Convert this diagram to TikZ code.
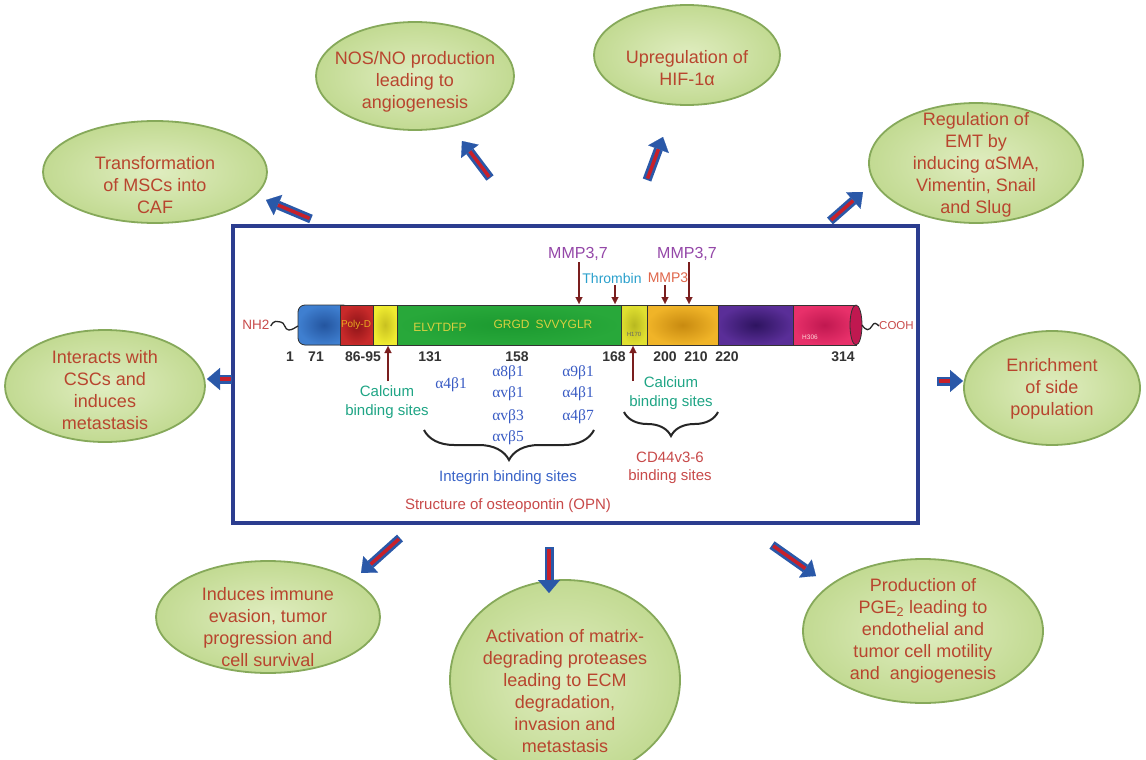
\documentclass[tikz,border=0pt]{standalone}
\usepackage{fontspec}
\setmainfont{Liberation Sans}
\newfontfamily\grk{Liberation Serif}
\usetikzlibrary{arrows.meta,shapes.geometric,decorations.pathreplacing}
\definecolor{ellin}{HTML}{E0EDC0}
\definecolor{ellout}{HTML}{C2DA92}
\definecolor{ellborder}{HTML}{86A95A}
\definecolor{elltext}{HTML}{B8452E}
\definecolor{boxblue}{HTML}{2B3D8F}
\definecolor{arrowblue}{HTML}{2A58A8}
\definecolor{arrowred}{HTML}{C8202A}
\definecolor{mmppurple}{HTML}{9447A8}
\definecolor{thrombincol}{HTML}{2AA0CC}
\definecolor{mmpred}{HTML}{E0664A}
\definecolor{calgreen}{HTML}{1FA585}
\definecolor{intblue}{HTML}{3A64C8}
\definecolor{cdred}{HTML}{C84A4A}
\definecolor{numgray}{HTML}{333333}
\definecolor{grkblue}{HTML}{3A5CC4}
\definecolor{darkarrow}{HTML}{7A1E1E}
\definecolor{segblueA}{HTML}{24559F}
\definecolor{segblueB}{HTML}{3F7FD0}
\definecolor{segredA}{HTML}{8E1418}
\definecolor{segredB}{HTML}{C82A2A}
\definecolor{segyelA}{HTML}{C8C020}
\definecolor{segyelB}{HTML}{F0EC30}
\definecolor{seggreenA}{HTML}{1C9A30}
\definecolor{seggreenB}{HTML}{28A83A}
\definecolor{segyel2A}{HTML}{B8B820}
\definecolor{segyel2B}{HTML}{E0E030}
\definecolor{segorA}{HTML}{C88A10}
\definecolor{segorB}{HTML}{F0B428}
\definecolor{segpuA}{HTML}{2E1460}
\definecolor{segpuB}{HTML}{5A2E98}
\definecolor{segpiA}{HTML}{C01850}
\definecolor{segpiB}{HTML}{E8306A}
\definecolor{segpinkdark}{HTML}{C01850}
\definecolor{segorange}{HTML}{E8A820}
\definecolor{bartext}{HTML}{D8D040}
\tikzset{
  ell/.style={ellipse, draw=ellborder, line width=1.8pt, inner color=ellin, outer color=ellout},
  elltxt/.style={align=center, text=elltext, font=\fontsize{18}{22}\selectfont, inner sep=0pt},
  lbl/.style={inner sep=0pt, font=\fontsize{15}{18}\selectfont},
  num/.style={inner sep=0pt, text=numgray, font=\fontsize{14}{16}\selectfont\bfseries},
  grklbl/.style={inner sep=0pt, text=grkblue, font=\fontsize{15.5}{18}\selectfont\grk},
  bigshaft/.style={line width=9pt, draw=arrowblue, -{Triangle[width=22pt,length=13pt,line width=0.1pt]}},
  bigcore/.style={line width=3.5pt, draw=arrowred, shorten >=13pt, shorten <=1.5pt},
  thinarr/.style={line width=2.3pt, draw=darkarrow, -{Triangle[width=7pt,length=7pt,line width=0.1pt]}},
  seg/.style={draw=black!80, line width=0.8pt},
  bracestyle/.style={decorate, line width=2pt, draw=black!85}
}
\begin{document}
\begin{tikzpicture}[x=1pt,y=-1pt]
\useasboundingbox (0,0) rectangle (1146,760);
\fill[white] (0,0) rectangle (1146,760);

% ---------------- ellipses ----------------
\node[ell, minimum width=224pt, minimum height=102pt] (e1) at (155,172) {};
\node[elltxt] (t1) at (155,185) {Transformation\\of MSCs into\\CAF};
\node[ell, minimum width=198pt, minimum height=108pt] (e2) at (415,76) {};
\node[elltxt] (t2) at (415,82) {NOS/NO production\\leading to\\angiogenesis};
\node[ell, minimum width=186pt, minimum height=100pt] (e3) at (687,55) {};
\node[elltxt] (t3) at (687,68) {Upregulation of\\HIF-1α};
\node[ell, minimum width=214pt, minimum height=120pt] (e4) at (976,163) {};
\node[elltxt] (t4) at (976,165) {Regulation of\\EMT by\\inducing αSMA,\\Vimentin, Snail\\and Slug};
\node[ell, minimum width=200pt, minimum height=112pt] (e5) at (105,386) {};
\node[elltxt] (t5) at (105,390) {Interacts with\\CSCs and\\induces\\metastasis};
\node[ell, minimum width=176pt, minimum height=114pt] (e6) at (1052,388) {};
\node[elltxt] (t6) at (1052,389) {Enrichment\\of side\\population};
\node[ell, minimum width=224pt, minimum height=112pt] (e7) at (268,617) {};
\node[elltxt] (t7) at (268,627) {Induces immune\\evasion, tumor\\progression and\\cell survival};
\node[ell, minimum width=230pt, minimum height=200pt] (e8) at (565,680) {};
\node[elltxt] (t8) at (565,691) {Activation of matrix-\\degrading proteases\\leading to ECM\\degradation,\\invasion and\\metastasis};
\node[ell, minimum width=240pt, minimum height=144pt] (e9) at (923,631) {};
\node[elltxt] (t9) at (923,631) {Production of\\PGE\textsubscript{2} leading to\\endothelial and\\tumor cell motility\\and~~angiogenesis};

% ---------------- central box ----------------
\node[draw=boxblue, line width=4pt, fill=white, minimum width=685pt, minimum height=297pt, inner sep=0pt] (box) at (575.5,374.5) {};

% ---------------- block arrows ----------------
\coordinate (a1s) at (311,219); \coordinate (a1e) at (266,200);
\coordinate (a2s) at (490,178); \coordinate (a2e) at (462,141);
\coordinate (a3s) at (647,180); \coordinate (a3e) at (663,137);
\coordinate (a4s) at (830,221); \coordinate (a4e) at (863,192);
\coordinate (a5s) at (232,379); \coordinate (a5e) at (207,379);
\coordinate (a6s) at (937,381); \coordinate (a6e) at (963,381);
\coordinate (a7s) at (400,538); \coordinate (a7e) at (361,573);
\coordinate (a8s) at (549,547); \coordinate (a8e) at (549,593);
\coordinate (a9s) at (772,545); \coordinate (a9e) at (816,576);
\foreach \i in {1,...,9}{
  \draw[bigshaft] (a\i s) -- (a\i e);
  \draw[bigcore] (a\i s) -- (a\i e);
}

% ---------------- protein bar ----------------
\filldraw[seg, inner color=segblueA, outer color=segblueB, rounded corners=7pt] (298,305) rectangle (350,345);
\filldraw[seg, inner color=segredA, outer color=segredB] (340,305) rectangle (373,345);
\filldraw[seg, inner color=segyelA, outer color=segyelB] (373,305) rectangle (397,345);
\filldraw[seg, inner color=seggreenA, outer color=seggreenB] (397,305) rectangle (621,345);
\filldraw[seg, inner color=segyel2A, outer color=segyel2B] (621,305) rectangle (647,345);
\filldraw[seg, inner color=segorA, outer color=segorB] (647,305) rectangle (718,345);
\filldraw[seg, inner color=segpuA, outer color=segpuB] (718,305) rectangle (793,345);
\filldraw[seg, inner color=segpiA, outer color=segpiB] (793,305) rectangle (856,345);
\filldraw[seg, fill=segpinkdark] (856,325) ellipse (6 and 20);
\node[inner sep=0pt, text=segorange, font=\fontsize{10}{12}\selectfont] (polyd) at (356,325) {Poly-D};
\node[inner sep=0pt, text=bartext, font=\fontsize{12}{14}\selectfont] (elv) at (440,327) {ELVTDFP};
\node[inner sep=0pt, text=bartext, font=\fontsize{12}{14}\selectfont] (rgd) at (543,324) {GRGD\hspace{6pt}SVVYGLR};
\node[inner sep=0pt, text=black!60, font=\fontsize{6}{7}\selectfont] (h170) at (634,334) {H170};
\node[inner sep=0pt, text=pink!60, font=\fontsize{6.5}{7}\selectfont] (h306) at (810,337) {H306};

% termini
\node[inner sep=0pt, text=cdred, font=\fontsize{13.5}{16}\selectfont] (nh2) at (256,325) {NH2};
\draw[line width=1.3pt, black!85] (nh2.east) ++(1,1) .. controls +(4,-7) and +(-4,0) .. ++(10,-4) .. controls +(4,0) and +(-4,0) .. ++(8,8) .. controls +(3,0) and +(-3,2) .. (298,326);
\node[inner sep=0pt, text=cdred, font=\fontsize{11.5}{14}\selectfont, anchor=west] (cooh) at (879,326) {COOH};
\draw[line width=1.3pt, black!85] (862,325) .. controls (866,331) and (869,331) .. (872,326) .. controls (874,322) and (876,323) .. (cooh.west);

% numbers
\node[num] (n1) at (290,357) {1};
\node[num] (n71) at (316,357) {71};
\node[num] (n86) at (363,357) {86-95};
\node[num] (n131) at (430,357) {131};
\node[num] (n158) at (517,357) {158};
\node[num] (n168) at (614,357) {168};
\node[num] (n200) at (665,357) {200};
\node[num] (n210) at (696,357) {210};
\node[num] (n220) at (727,357) {220};
\node[num] (n314) at (843,357) {314};

% cleavage labels and arrows
\node[lbl, text=mmppurple, font=\fontsize{16}{18}\selectfont] (mmpA) at (578,254) {MMP3,7};
\node[lbl, text=thrombincol, font=\fontsize{14}{16}\selectfont] (thr) at (612,278) {Thrombin};
\node[lbl, text=mmpred, font=\fontsize{14}{16}\selectfont] (mmpC) at (668,278) {MMP3};
\node[lbl, text=mmppurple, font=\fontsize{16}{18}\selectfont] (mmpB) at (687,254) {MMP3,7};
\coordinate (cutA) at (579,304);
\coordinate (cutT) at (615,304);
\coordinate (cutC) at (665,304);
\coordinate (cutB) at (689,304);
\draw[thinarr] (579,262) -- (cutA);
\draw[thinarr] (615,285) -- (cutT);
\draw[thinarr] (665,285) -- (cutC);
\draw[thinarr] (689,262) -- (cutB);
\coordinate (caA) at (388,381); \coordinate (caAt) at (388,346);
\coordinate (caB) at (633,381); \coordinate (caBt) at (633,346);
\draw[thinarr] (caA) -- (caAt);
\draw[thinarr] (caB) -- (caBt);

% calcium labels
\node[lbl, text=calgreen, align=center, font=\fontsize{15}{18.5}\selectfont] (calA) at (387,402) {Calcium\\binding sites};
\node[lbl, text=calgreen, align=center, font=\fontsize{15}{18.5}\selectfont] (calB) at (671,393) {Calcium\\binding sites};

% integrins
\node[grklbl] (g1) at (451,385) {α4β1};
\node[grklbl] (g2) at (508,373) {α8β1};
\node[grklbl] (g3) at (508,394) {αvβ1};
\node[grklbl] (g4) at (508,417) {αvβ3};
\node[grklbl] (g5) at (508,438) {αvβ5};
\node[grklbl] (g6) at (578,373) {α9β1};
\node[grklbl] (g7) at (578,394) {α4β1};
\node[grklbl] (g8) at (578,417) {α4β7};

% braces
\coordinate (brAr) at (594,430); \coordinate (brAl) at (424,430);
\draw[bracestyle, decoration={brace, amplitude=30pt}] (brAr) -- (brAl);
\coordinate (brBr) at (718,412); \coordinate (brBl) at (624,412);
\draw[bracestyle, decoration={brace, amplitude=24pt}] (brBr) -- (brBl);

\node[lbl, text=intblue] (intl) at (508,478) {Integrin binding sites};
\node[lbl, text=cdred, align=center, font=\fontsize{15}{18.5}\selectfont] (cdl) at (670,468) {CD44v3-6\\binding sites};
\node[lbl, text=cdred] (title) at (508,506) {Structure of osteopontin (OPN)};

\end{tikzpicture}
\end{document}
